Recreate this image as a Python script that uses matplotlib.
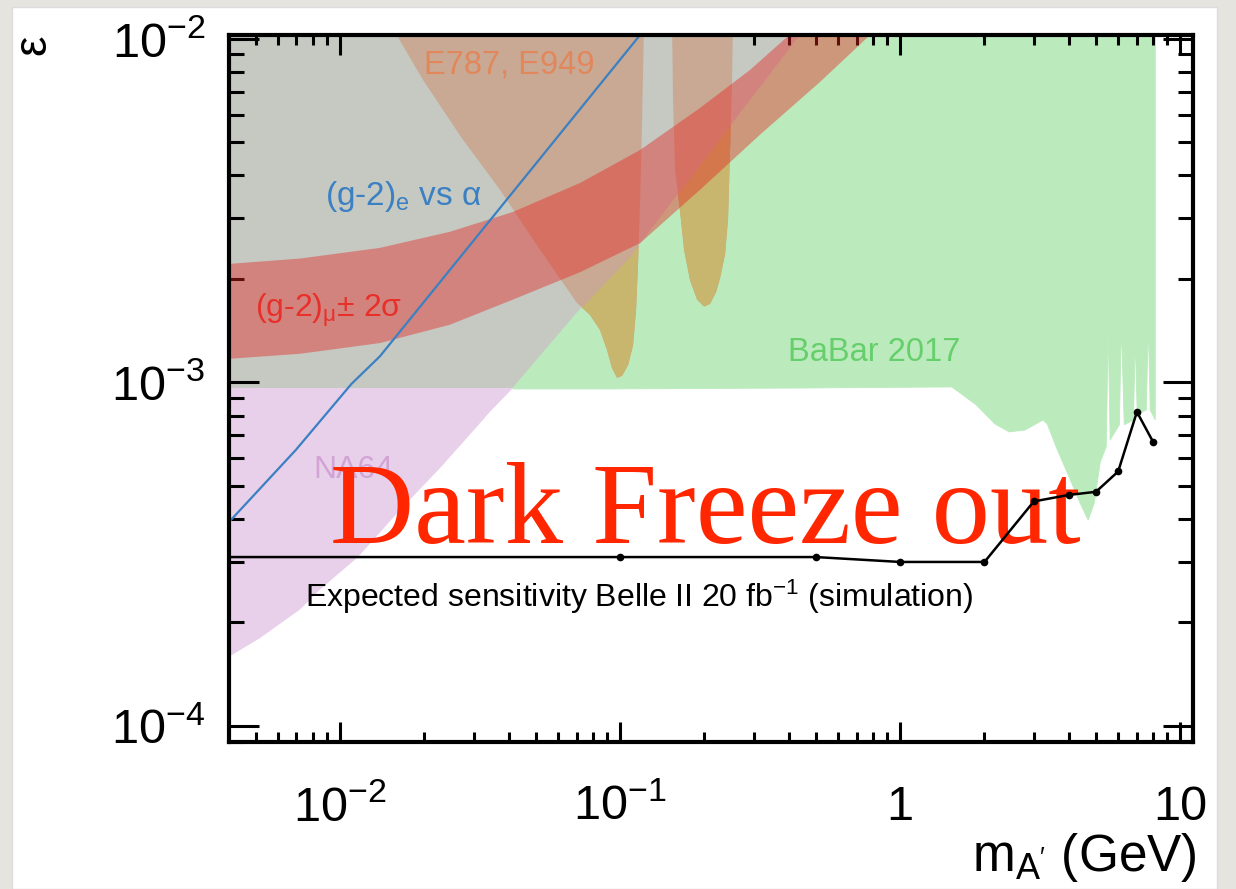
import matplotlib
matplotlib.use("Agg")
import matplotlib.pyplot as plt
from matplotlib.patches import Rectangle
from matplotlib.ticker import LogLocator, NullFormatter

plt.rcParams['font.family'] = ['Liberation Sans', 'DejaVu Sans']
plt.rcParams['mathtext.fontset'] = 'custom'
plt.rcParams['mathtext.rm'] = 'Liberation Sans'
plt.rcParams['mathtext.it'] = 'Liberation Sans:italic'
plt.rcParams['mathtext.bf'] = 'Liberation Sans:bold'

# ---------------- data (m_A' in GeV, epsilon) ----------------
# previously excluded region (grey)
other_x = [3.0e-3, 0.0415, 0.0702, 0.1086, 0.193, 0.44, 0.469, 3.0e-3]
other_y = [0.962e-3, 0.962e-3, 1.59e-3, 2.31e-3, 4.26e-3, 1.024e-2, 1.095e-2, 1.095e-2]

# BaBar 2017
babar_x = [0.0415, 0.0702, 0.1086, 0.193, 0.44, 0.469, 8.14, 8.14,
           7.81, 7.69, 7.56, 7.02, 6.91, 6.80, 6.31, 6.16, 6.06, 5.62, 5.53, 5.44,
           5.18, 4.93, 4.69, 4.39, 4.05, 3.64, 3.35, 3.24, 2.79, 2.45, 2.18, 1.87,
           1.53, 0.44, 0.0848, 0.0415]
babar_y = [0.962e-3, 1.59e-3, 2.31e-3, 4.26e-3, 1.024e-2, 1.095e-2, 1.095e-2, 0.777e-3,
           0.831e-3, 1.47e-3, 0.831e-3, 0.804e-3, 1.327e-3, 0.777e-3, 0.752e-3, 1.47e-3,
           0.752e-3, 0.679e-3, 1.42e-3, 0.649e-3,
           0.586e-3, 0.445e-3, 0.397e-3, 0.445e-3, 0.520e-3,
           0.636e-3, 0.756e-3, 0.777e-3, 0.726e-3, 0.717e-3, 0.756e-3, 0.859e-3,
           0.969e-3, 0.962e-3, 0.956e-3, 0.956e-3]

# E787, E949 (two pieces, gap at the pi0 mass)
e949a_x = [1.52e-2, 1.98e-2, 2.72e-2, 3.73e-2, 5.18e-2, 7.02e-2, 7.81e-2, 8.48e-2,
           8.99e-2, 9.36e-2, 9.76e-2, 0.1017, 0.1068, 0.1113, 0.1141, 0.1160,
           0.118, 0.1199, 0.1218]
e949a_y = [1.095e-2, 7.58e-3, 5.14e-3, 3.63e-3, 2.43e-3, 1.70e-3, 1.57e-3, 1.42e-3,
           1.24e-3, 1.10e-3, 1.03e-3, 1.044e-3, 1.12e-3, 1.28e-3, 1.62e-3, 2.22e-3,
           3.39e-3, 5.80e-3, 1.095e-2]
e949b_x = [0.1534, 0.1546, 0.1572, 0.164, 0.1693, 0.1778, 0.1884, 0.1995, 0.2096,
           0.2203, 0.2276, 0.237, 0.243, 0.2471, 0.2512, 0.253]
e949b_y = [1.095e-2, 6.63e-3, 4.15e-3, 3.11e-3, 2.43e-3, 1.98e-3, 1.74e-3, 1.66e-3,
           1.69e-3, 1.83e-3, 2.01e-3, 2.35e-3, 2.97e-3, 4.74e-3, 7.58e-3, 1.095e-2]

# (g-2)_mu +- 2 sigma band
gm2mu_up_x = [3.0e-3, 7.20e-3, 1.39e-2, 2.47e-2, 4.15e-2, 7.20e-2, 0.118, 0.193, 0.291, 0.395, 0.44]
gm2mu_up_y = [2.17e-3, 2.29e-3, 2.46e-3, 2.74e-3, 3.13e-3, 3.80e-3, 4.74e-3, 6.28e-3, 8.10e-3, 1.011e-2, 1.095e-2]
gm2mu_lo_x = [3.0e-3, 7.20e-3, 1.39e-2, 2.47e-2, 4.15e-2, 7.20e-2, 0.118, 0.193, 0.316, 0.518, 0.781, 0.848]
gm2mu_lo_y = [1.15e-3, 1.21e-3, 1.30e-3, 1.47e-3, 1.74e-3, 2.09e-3, 2.54e-3, 3.63e-3, 5.25e-3, 7.48e-3, 1.024e-2, 1.095e-2]

# NA64
na64_x = [3.5e-3, 0.0415, 0.0343, 0.0301, 0.0228, 0.0164, 0.0116, 8.48e-3, 7.2e-3, 5.18e-3, 4.02e-3, 3.5e-3]
na64_y = [0.962e-3, 0.962e-3, 0.820e-3, 0.726e-3, 0.563e-3, 0.425e-3, 0.310e-3, 0.249e-3, 0.218e-3, 0.180e-3, 0.159e-3, 0.147e-3]

# (g-2)_e vs alpha
gm2e_x = [3.73e-3, 6.97e-3, 1.10e-2, 1.39e-2, 0.126]
gm2e_y = [3.67e-4, 6.36e-4, 9.89e-4, 1.19e-3, 1.095e-2]

# Belle II expected sensitivity, 20 fb^-1
belle_x = [1e-3, 0.1, 0.5, 1, 2, 3, 4, 5, 6, 7, 8]
belle_y = [3.1e-4, 3.1e-4, 3.1e-4, 3.0e-4, 3.0e-4, 4.5e-4, 4.7e-4, 4.8e-4, 5.5e-4, 8.2e-4, 6.7e-4]

xticks = [1e-2, 1e-1, 1, 10]
xticklabels = [r'10$^{\mathregular{-2}}$', r'10$^{\mathregular{-1}}$', '1', '10']
yticks = [1e-4, 1e-3, 1e-2]
yticklabels = [r'10$^{\mathregular{-4}}$', r'10$^{\mathregular{-3}}$', r'10$^{\mathregular{-2}}$']

# ---------------- colours ----------------
GREY = '#c5c9c2'
GREEN = '#bbebbd'
BROWN = '#c9a993'
OLIVE = '#c8b56e'
RED = '#e72320'
PINK = '#e8d0ea'
BLUE = '#3b80c2'

W, H = 1236, 889
fig = plt.figure(figsize=(W / 100, H / 100), dpi=100)
fig.patch.set_facecolor('#e6e4df')
fig.patches.append(Rectangle((12 / W, 0), (1217 - 12) / W, (H - 7) / H,
                             transform=fig.transFigure, facecolor='white',
                             edgecolor='#dcdcdc', lw=1.0, zorder=-5))

ax = fig.add_axes([229 / W, (H - 742) / H, (1193 - 229) / W, (742 - 35) / H])
ax.set_zorder(2)
ax.set_xscale('log')
ax.set_yscale('log')
ax.set_xlim(4.02e-3, 11.1)
ax.set_ylim(0.898e-4, 1.024e-2)
ax.set_facecolor('white')

ax.fill(other_x, other_y, facecolor=GREY, edgecolor=GREY, lw=0.6, zorder=1)
green = ax.fill(babar_x, babar_y, facecolor=GREEN, edgecolor=GREEN, lw=0.6, zorder=1.1)[0]
ax.fill(na64_x, na64_y, facecolor=PINK, edgecolor='none', lw=0, zorder=1.2)
for ex, ey in [(e949a_x, e949a_y), (e949b_x, e949b_y)]:
    ax.fill(ex, ey, facecolor=BROWN, edgecolor='none', lw=0, zorder=2)
    ol = ax.fill(ex, ey, facecolor=OLIVE, edgecolor='none', lw=0, zorder=2.1)[0]
    ol.set_clip_path(green)
band_x = gm2mu_up_x + gm2mu_lo_x[::-1]
band_y = gm2mu_up_y + gm2mu_lo_y[::-1]
ax.fill(band_x, band_y, facecolor=RED, alpha=0.42, edgecolor='none', lw=0, zorder=3)

ax.plot(gm2e_x, gm2e_y, color=BLUE, lw=1.6, zorder=4)

# labels
ax.text(0.2905, 0.9576, 'E787, E949', transform=ax.transAxes, color='#e2875c',
        fontsize=23.5, ha='center', va='center', zorder=5)
ax.text(0.0996, 0.7709, r'(g-2)$_{\mathregular{e}}$ vs α', transform=ax.transAxes,
        color=BLUE, fontsize=24, ha='left', va='center', zorder=5)
ax.text(0.027, 0.611, r'(g-2)$_{\mathregular{μ}}$± 2σ', transform=ax.transAxes,
        color='#e8302b', fontsize=23, ha='left', va='center', zorder=5)
ax.text(0.669, 0.5516, 'BaBar 2017', transform=ax.transAxes, color='#66cf6c',
        fontsize=23.5, ha='center', va='center', zorder=5)
ax.text(0.0871, 0.3847, 'NA64', transform=ax.transAxes, color='#d2a4d6',
        fontsize=23, ha='left', va='center', zorder=5)
ax.text(0.0788, 0.2051, r'Expected sensitivity Belle II 20 fb$^{\mathregular{-1}}$ (simulation)',
        transform=ax.transAxes, color='black', fontsize=23, ha='left', va='center', zorder=5)
ax.text(0.1048, 0.2815, 'Dark Freeze out', transform=ax.transAxes, color='#ff2600',
        fontsize=84, family='Liberation Serif', ha='left', va='baseline', zorder=5.5)

ax.plot(belle_x, belle_y, color='black', lw=1.8, marker='o', ms=4.5, zorder=6)

# axes styling
for s in ax.spines.values():
    s.set_linewidth(3.0)
    s.set_zorder(10)
ax.set_xticks(xticks, labels=xticklabels)
ax.set_yticks(yticks, labels=yticklabels)
ax.xaxis.set_minor_locator(LogLocator(base=10, subs=range(2, 10)))
ax.yaxis.set_minor_locator(LogLocator(base=10, subs=range(2, 10)))
ax.xaxis.set_minor_formatter(NullFormatter())
ax.yaxis.set_minor_formatter(NullFormatter())
ax.tick_params(which='both', direction='in', top=True, right=True, width=2.2, zorder=10)
ax.tick_params(axis='x', which='major', length=14.4, labelsize=35, pad=31)
ax.tick_params(axis='x', which='minor', length=7.2)
ax.tick_params(axis='y', which='major', length=21.6, labelsize=35, pad=17)
ax.tick_params(axis='y', which='minor', length=10.8)

fig.text(33 / W, 1 - 45 / H, 'ε', rotation=90, fontsize=33, ha='center', va='center')
fig.text(1197 / W, 1 - 858 / H, r"m$_{\mathregular{A'}}$ (GeV)", fontsize=37,
         ha='right', va='center')

fig.savefig('out.png', dpi=100, facecolor=fig.get_facecolor())
